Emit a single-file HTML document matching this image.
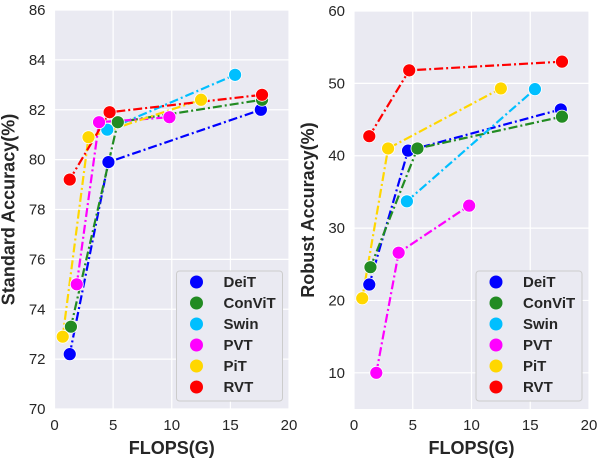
<!DOCTYPE html>
<html><head><meta charset="utf-8"><style>
body{margin:0;background:#fff;}
svg text{font-family:"Liberation Sans",sans-serif;}
</style></head><body>
<svg id="chart" width="603" height="459" viewBox="0 0 603 459" xmlns="http://www.w3.org/2000/svg"></svg>
<script>
const seriesNames = ["DeiT","ConViT","Swin","PVT","PiT","RVT"];
const seriesColors = ["#0000ff","#228b22","#00bfff","#ff00ff","#ffd700","#ff0000"];
const flopsDeiT = [1.3,4.6,17.6];
const flopsConViT = [1.4,5.4,17.7];
const flopsSwin = [4.5,15.4];
const flopsPVT = [1.9,3.8,9.8];
const flopsPiT = [0.7,2.9,12.5];
const flopsRVT = [1.3,4.7,17.7];
const stdDeiT = [72.2,79.9,82.0];
const stdConViT = [73.3,81.5,82.4];
const stdSwin = [81.2,83.4];
const stdPVT = [75.0,81.5,81.7];
const stdPiT = [72.9,80.9,82.4];
const stdRVT = [79.2,81.9,82.6];
const robDeiT = [22.2,40.7,46.4];
const robConViT = [24.6,41.0,45.4];
const robSwin = [33.7,49.2];
const robPVT = [10.0,26.6,33.1];
const robPiT = [20.3,41.0,49.3];
const robRVT = [42.7,51.8,53.0];
const xTicks = [0,5,10,15,20];
const stdTicks = [70,72,74,76,78,80,82,84,86];
const robTicks = [10,20,30,40,50,60];

const flops=[flopsDeiT,flopsConViT,flopsSwin,flopsPVT,flopsPiT,flopsRVT];
const stds=[stdDeiT,stdConViT,stdSwin,stdPVT,stdPiT,stdRVT];
const robs=[robDeiT,robConViT,robSwin,robPVT,robPiT,robRVT];
const NS="http://www.w3.org/2000/svg";
const svg=document.getElementById('chart');
function mk(tag,attrs,parent){const e=document.createElementNS(NS,tag);for(const k in attrs)e.setAttribute(k,attrs[k]);(parent||svg).appendChild(e);return e;}

function panel(name,x0,x1,y0,y1,ymin,ymax,yticks,ydata,ylabel){
  const g=mk('g',{});
  
  
  const sx=v=>x0+(v-0)/20*(x1-x0);
  const sy=v=>y1-(v-ymin)/(ymax-ymin)*(y1-y0);
  const bg=mk('rect',{x:x0,y:y0,width:x1-x0,height:y1-y0,fill:'#eaeaf2'},g);
  
  
  xTicks.forEach(t=>{
    mk('line',{x1:sx(t),x2:sx(t),y1:y0,y2:y1,stroke:'#fff','stroke-width':1.2},g);
    const tx=mk('text',{x:sx(t),y:y1+21,'text-anchor':'middle','font-size':15,fill:'#262626'},g);
    tx.textContent=t;
    
    
  });
  yticks.forEach(t=>{
    mk('line',{x1:x0,x2:x1,y1:sy(t),y2:sy(t),stroke:'#fff','stroke-width':1.2},g);
    const tx=mk('text',{x:x0-9,y:sy(t)+5,'text-anchor':'end','font-size':15,fill:'#262626'},g);
    tx.textContent=t;
    
    
  });
  seriesNames.forEach((n,i)=>{
    const pts=flops[i].map((f,j)=>sx(f)+','+sy(ydata[i][j])).join(' ');
    const pl=mk('polyline',{points:pts,fill:'none',stroke:seriesColors[i],'stroke-width':2.2,'stroke-dasharray':'9,3,2,3'},g);
    
    
  });
  seriesNames.forEach((n,i)=>{
    flops[i].forEach((f,j)=>{
      const c=mk('circle',{cx:sx(f),cy:sy(ydata[i][j]),r:6.5,fill:seriesColors[i],stroke:'#fff','stroke-width':0.8},g);
      
      
    });
  });
  const xl=mk('text',{x:(x0+x1)/2,y:y1+45,'text-anchor':'middle','font-size':18,'font-weight':'bold',fill:'#262626'},g);
  xl.textContent='FLOPS(G)';
  
  
  const yl=mk('text',{x:0,y:0,'text-anchor':'middle','font-size':18,'font-weight':'bold',fill:'#262626',transform:`translate(${x0-40},${(y0+y1)/2}) rotate(-90)`},g);
  yl.textContent=ylabel;
  
  
  const lg=mk('g',{},g);
  
  
  const lx=x0+122;
  mk('rect',{x:lx,y:271,width:106,height:130,rx:3,fill:'#eaeaf2',stroke:'#cccccc','stroke-width':1},lg);
  seriesNames.forEach((n,i)=>{
    const yy=282+i*21;
    const e=mk('g',{},lg);
    
    
    mk('circle',{cx:lx+20,cy:yy,r:6.5,fill:seriesColors[i]},e);
    const t=mk('text',{x:lx+47,y:yy+5,'font-size':15,'font-weight':'bold',fill:'#262626'},e);
    t.textContent=n;
  });
}
panel('standard-accuracy-panel',54.5,289,10,409,70,86,stdTicks,stds,'Standard Accuracy(%)');
panel('robust-accuracy-panel',354,589,11,409,5,60,robTicks,robs,'Robust Accuracy(%)');
</script>
</body></html>
